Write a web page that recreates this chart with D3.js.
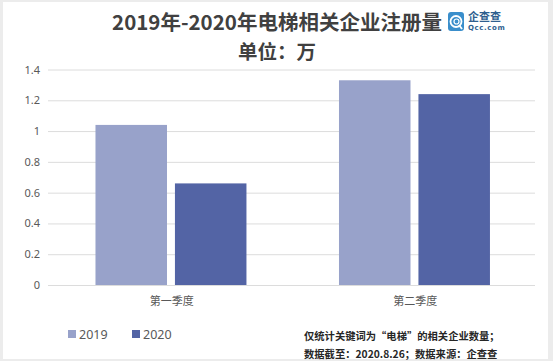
<!DOCTYPE html>
<html>
<head>
<meta charset="utf-8">
<script src="https://cdn.jsdelivr.net/npm/d3@7"></script>
<style>
  html, body { margin: 0; padding: 0; background: #ececec; }
  svg { display: block; font-family: "Noto Sans CJK SC", "Noto Sans", sans-serif; }
</style>
</head>
<body>
<div id="chart"></div>
<script>
!(function (d3) {
  const quarters = ["第一季度", "第二季度"];
  const years = ["2019", "2020"];
  const values2019 = [1.04, 1.33];
  const values2020 = [0.66, 1.24];
  const yTicks = [0, 0.2, 0.4, 0.6, 0.8, 1, 1.2, 1.4];
  const colors = ["#98a2ca", "#5364a5"];
  const notes = ["仅统计关键词为“电梯”的相关企业数量；", "数据截至：2020.8.26；数据来源：企查查"];

  const width = 553, height = 361;
  const left = 48, right = 535, top = 69.5, bottom = 285;

  let svg = d3.select("#chart").append("svg")
    .attr("width", width)
    .attr("height", height);

  // white card with grey frame
  svg.append("rect")
    .attr("x", 3).attr("y", 2)
    .attr("width", 545).attr("height", 357)
    .attr("fill", "#fff");

  let x0 = d3.scaleBand().domain(quarters).range([left, right]);
  let bw = x0.bandwidth();
  let x1 = d3.scaleBand().domain(years)
    .range([0.195 * bw, 0.815 * bw])
    .paddingInner(0.1);
  let y = d3.scaleLinear().domain([0, 1.4]).range([bottom, top]);

  // gridlines + tick labels
  let yAxis = d3.axisLeft(y).tickValues(yTicks)
    .tickSize(-(right - left))
    .tickPadding(8)
    .tickFormat(d3.format("~g"));
  let ga = svg.append("g").attr("transform", "translate(" + left + ",0)").call(yAxis);
  ga.select(".domain").remove();
  ga.selectAll(".tick line").attr("stroke", "#dcdcdc").attr("stroke-width", 1);
  ga.selectAll(".tick text")
    .attr("fill", "#595959")
    .style("font-size", "11px")
    .style("font-family", "'Noto Sans', sans-serif");

  let rows = quarters.map((q, i) => ({ q: q, vals: [values2019[i], values2020[i]] }));

  let groups = svg.append("g").selectAll("g")
    .data(rows)
    .enter().append("g")
    .attr("transform", d => "translate(" + x0(d.q) + ",0)");

  groups.selectAll("rect")
    .data(d => d.vals.map((v, j) => ({ year: years[j], v: v, j: j })))
    .enter().append("rect")
    .attr("x", d => x1(d.year))
    .attr("width", x1.bandwidth())
    .attr("y", d => y(d.v))
    .attr("height", d => y(0) - y(d.v))
    .attr("fill", d => colors[d.j]);

  // category labels
  let xAxis = d3.axisBottom(x0).tickSize(0).tickPadding(12);
  let gx = svg.append("g").attr("transform", "translate(0," + bottom + ")").call(xAxis);
  gx.select(".domain").remove();
  gx.selectAll(".tick text")
    .attr("fill", "#595959")
    .attr("dx", 2)
    .style("font-size", "11px")
    .style("font-family", "'Noto Sans CJK SC', sans-serif");

  // title
  svg.append("text")
    .attr("x", 277).attr("y", 30)
    .attr("text-anchor", "middle")
    .attr("fill", "#404040")
    .style("font-size", "20.5px")
    .style("font-weight", "bold")
    .text("2019年-2020年电梯相关企业注册量");
  svg.append("text")
    .attr("x", 277).attr("y", 58.5)
    .attr("text-anchor", "middle")
    .attr("fill", "#404040")
    .style("font-size", "19.5px")
    .style("font-weight", "bold")
    .text("单位：万");

  // logo
  let logo = svg.append("g").attr("transform", "translate(448,12)");
  logo.append("rect").attr("width", 16).attr("height", 19).attr("rx", 3).attr("fill", "#3a8ecb");
  logo.append("circle").attr("cx", 8).attr("cy", 9.5).attr("r", 5.5)
    .attr("fill", "none").attr("stroke", "#fff").attr("stroke-width", 1.8);
  logo.append("circle").attr("cx", 8.5).attr("cy", 9.5).attr("r", 2.5)
    .attr("fill", "none").attr("stroke", "#fff").attr("stroke-width", 1.2);
  logo.append("line").attr("x1", 11).attr("y1", 13).attr("x2", 14).attr("y2", 17)
    .attr("stroke", "#fff").attr("stroke-width", 1.8);
  logo.append("text").attr("x", 20).attr("y", 9)
    .attr("fill", "#2f5f8f").style("font-size", "11px").style("font-weight", "bold")
    .text("企查查");
  logo.append("text").attr("x", 20).attr("y", 18)
    .attr("fill", "#2f5f8f").style("font-size", "7px").style("font-weight", "bold")
    .style("letter-spacing", "0.6px").style("font-family", "'DejaVu Sans', sans-serif")
    .text("Qcc.com");

  // legend
  let legend = svg.append("g").selectAll("g")
    .data(years)
    .enter().append("g")
    .attr("transform", (d, i) => "translate(" + (68 + i * 64) + ",330)");
  legend.append("rect").attr("width", 8).attr("height", 8)
    .attr("fill", (d, i) => colors[i]);
  legend.append("text").attr("x", 11).attr("y", 8.5)
    .attr("fill", "#595959")
    .style("font-size", "12.5px")
    .style("font-family", "'Noto Sans', sans-serif")
    .text(d => d);

  // footnote
  svg.append("g").selectAll("text")
    .data(notes)
    .enter().append("text")
    .attr("x", 304)
    .attr("y", (d, i) => 340 + i * 18)
    .attr("fill", "#262626")
    .style("font-size", "10.3px")
    .style("font-weight", "bold")
    .text(d => d);
})(d3);
</script>
</body>
</html>
